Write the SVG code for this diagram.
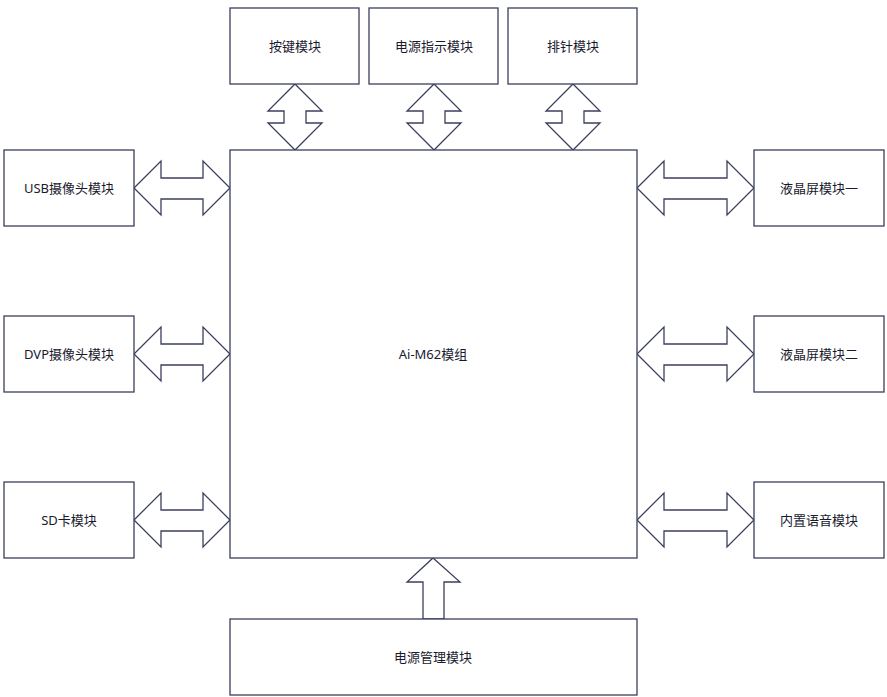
<svg xmlns="http://www.w3.org/2000/svg" width="887" height="697" viewBox="0 0 887 697">
<style>
g rect,g path{fill:#fff;stroke:#3b3f5c;stroke-width:1.3}
text{font-family:"Noto Sans","Noto Sans CJK SC",sans-serif;font-size:13px;fill:#1a1a2e;text-anchor:middle;dominant-baseline:central}
</style>
<rect width="887" height="697" style="fill:#fff;stroke:none"/>
<g id="connectors">
<path d="M295,84 L322,111 L306,111 L306,123 L322,123 L295,150 L268,123 L284,123 L284,111 L268,111 Z"/>
<path d="M434,84 L461,111 L445,111 L445,123 L461,123 L434,150 L407,123 L423,123 L423,111 L407,111 Z"/>
<path d="M573,84 L600,111 L584,111 L584,123 L600,123 L573,150 L546,123 L562,123 L562,111 L546,111 Z"/>
<path d="M134,188 L161,161 L161,178 L203,178 L203,161 L230,188 L203,215 L203,199 L161,199 L161,215 Z"/>
<path d="M134,354 L161,327 L161,344 L203,344 L203,327 L230,354 L203,381 L203,365 L161,365 L161,381 Z"/>
<path d="M134,520 L161,493 L161,510 L203,510 L203,493 L230,520 L203,547 L203,531 L161,531 L161,547 Z"/>
<path d="M637,188 L664,161 L664,178 L727,178 L727,161 L754,188 L727,215 L727,199 L664,199 L664,215 Z"/>
<path d="M637,354 L664,327 L664,344 L727,344 L727,327 L754,354 L727,381 L727,365 L664,365 L664,381 Z"/>
<path d="M637,520 L664,493 L664,510 L727,510 L727,493 L754,520 L727,547 L727,531 L664,531 L664,547 Z"/>
<path d="M433,558 L460,582 L444,582 L444,619 L423,619 L423,582 L407,582 Z"/>
</g>
<g id="main"><rect x="230" y="150" width="407" height="408"/><text x="433" y="354">Ai-M62模组</text></g>
<g id="key"><rect x="230" y="8" width="129" height="76"/><text x="295" y="46">按键模块</text></g>
<g id="pwrind"><rect x="369" y="8" width="129" height="76"/><text x="434" y="46">电源指示模块</text></g>
<g id="pin"><rect x="508" y="8" width="129" height="76"/><text x="573" y="46">排针模块</text></g>
<g id="usb"><rect x="4" y="150" width="130" height="76"/><text x="69" y="188">USB摄像头模块</text></g>
<g id="dvp"><rect x="4" y="316" width="130" height="76"/><text x="69" y="354">DVP摄像头模块</text></g>
<g id="sd"><rect x="4" y="482" width="130" height="76"/><text x="69" y="520">SD卡模块</text></g>
<g id="lcd1"><rect x="754" y="150" width="130" height="76"/><text x="819" y="188">液晶屏模块一</text></g>
<g id="lcd2"><rect x="754" y="316" width="130" height="76"/><text x="819" y="354">液晶屏模块二</text></g>
<g id="voice"><rect x="754" y="482" width="130" height="76"/><text x="819" y="520">内置语音模块</text></g>
<g id="pwr"><rect x="230" y="619" width="407" height="76"/><text x="433" y="657">电源管理模块</text></g>
</svg>
